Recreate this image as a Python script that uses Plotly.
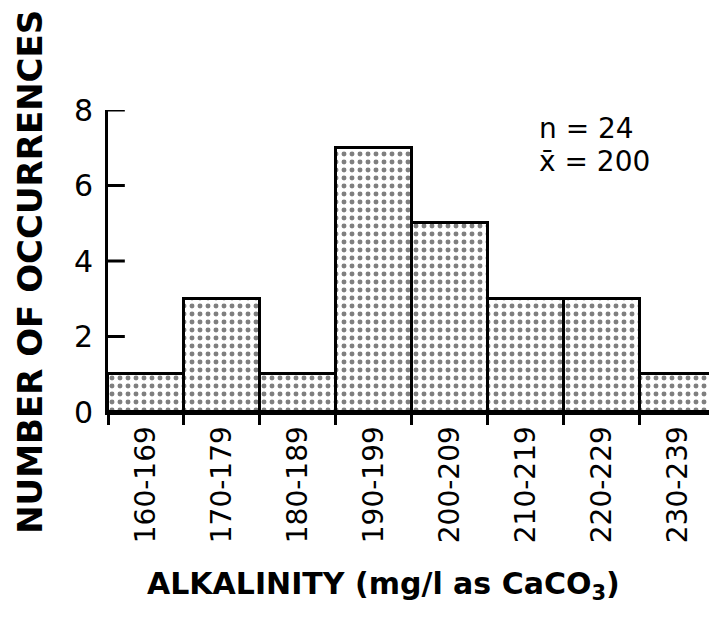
import plotly.graph_objects as go

categories = ["160-169", "170-179", "180-189", "190-199", "200-209", "210-219", "220-229", "230-239"]
counts = [1, 3, 1, 7, 5, 3, 3, 1]
y_ticks = [0, 2, 4, 6, 8]

FONT = "DejaVu Sans"

fig = go.Figure()
fig.add_trace(go.Bar(
    x=categories,
    y=counts,
    marker=dict(
        color="white",
        line=dict(color="black", width=3),
        pattern=dict(shape=".", fgcolor="black", bgcolor="white", size=8, solidity=0.3),
    ),
    width=1.0,
    showlegend=False,
))

# inward y-axis tick marks, placed on the y scale from the tick values
for v in y_ticks[1:]:
    fig.add_shape(type="line", xref="paper", yref="y",
                  x0=0, x1=0.028, y0=v, y1=v,
                  line=dict(color="black", width=3))

fig.update_layout(
    width=709, height=631,
    margin=dict(l=108, r=0, t=110, b=219),
    paper_bgcolor="white", plot_bgcolor="white",
    bargap=0,
    font=dict(family=FONT, color="black"),
    xaxis=dict(
        type="category",
        range=[-0.5, 7.41],
        showline=True, linecolor="black", linewidth=3,
        ticks="outside", tickson="boundaries", ticklen=10, tickwidth=3, tickcolor="black",
        tickangle=-90,
        tickfont=dict(size=28, family=FONT),
        showgrid=False, zeroline=False,
    ),
    yaxis=dict(
        range=[0, 8],
        tickmode="array",
        tickvals=y_ticks,
        showline=True, linecolor="black", linewidth=3,
        ticks="",
        tickfont=dict(size=30, family=FONT),
        ticklabelstandoff=6,
        showgrid=False, zeroline=False,
    ),
    annotations=[
        dict(text="<b>NUMBER OF OCCURRENCES</b>", textangle=-90,
             xref="paper", yref="paper", x=-0.13, xanchor="center",
             y=0.4636, yanchor="middle",
             showarrow=False, font=dict(size=34, family=FONT)),
        dict(text="<b>ALKALINITY (mg/l as CaCO<sub>3</sub>)</b>",
             xref="paper", yref="paper", x=0.459, xanchor="center",
             y=-0.573, yanchor="middle",
             showarrow=False, font=dict(size=30, family=FONT)),
        dict(text="n = 24",
             xref="paper", yref="paper", x=0.713, xanchor="left", y=0.94, yanchor="middle",
             showarrow=False, font=dict(size=28, family=FONT)),
        dict(text="x\u0304 = 200",
             xref="paper", yref="paper", x=0.713, xanchor="left", y=0.828, yanchor="middle",
             showarrow=False, font=dict(size=28, family=FONT)),
    ],
)

fig.write_html("out.html")
